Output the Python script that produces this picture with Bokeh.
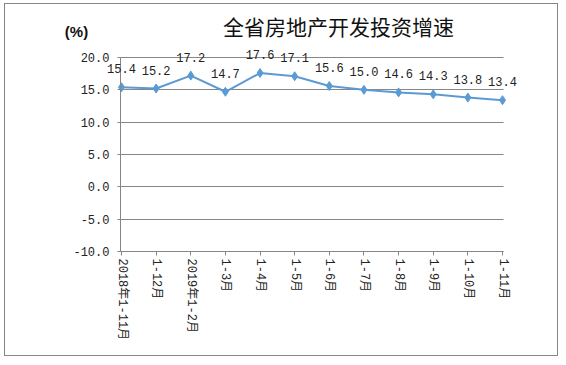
import math
from bokeh.plotting import figure
from bokeh.models import (Range1d, FixedTicker, NumeralTickFormatter, ColumnDataSource, LabelSet,
                          Label, LinearAxis, Grid)
from bokeh.core.properties import value
from bokeh.embed import file_html
from bokeh.resources import INLINE

categories = ["2018年1-11月", "1-12月", "2019年1-2月", "1-3月", "1-4月", "1-5月",
              "1-6月", "1-7月", "1-8月", "1-9月", "1-10月", "1-11月"]
growth = [15.4, 15.2, 17.2, 14.7, 17.6, 17.1, 15.6, 15.0, 14.6, 14.3, 13.8, 13.4]
y_ticks = [-10, -5, 0, 5, 10, 15, 20]
title_text = "全省房地产开发投资增速"
unit_text = "(%)"

idx = list(range(len(categories)))
src = ColumnDataSource(dict(x=idx, y=growth, lab=[f"{v:.1f}" for v in growth]))

FONT = "'Liberation Mono', 'Noto Sans CJK SC'"
GRAY = "#868686"
BLUE = "#5b9bd5"

# canvas layout (pixels)
W, H = 554, 353
X_FIRST, X_LAST = 116, 497        # pixel of first / last category
Y_TOP, Y_BOT = 53, 247            # pixel of y max / y min
y_min, y_max = y_ticks[0], y_ticks[-1]
n = len(categories) - 1
xs = (X_LAST - X_FIRST) / n
ys = (Y_BOT - Y_TOP) / (y_max - y_min)
x_range = Range1d(-X_FIRST / xs, n + (W - X_LAST) / xs)
y_range = Range1d(y_min - (H - Y_BOT) / ys, y_max + Y_TOP / ys)
pad = 0.03
x_lo, x_hi = -pad, n + pad

p = figure(width=W, height=H, output_backend="svg", toolbar_location=None,
           x_range=x_range, y_range=y_range, x_axis_location=None, y_axis_location=None,
           min_border=0)
p.styles = {"margin-left": "4px", "margin-top": "3px", "border": "1px solid " + GRAY}
p.outline_line_color = None
p.background_fill_color = "white"
p.border_fill_color = "white"
for g in p.grid:
    g.visible = False
p.center = [r for r in p.center if not isinstance(r, Grid)]

grid_kw = dict(dimension=1, ticker=FixedTicker(ticks=y_ticks), grid_line_color=GRAY)
if "cross_bounds" in Grid.properties():
    p.add_layout(Grid(cross_bounds=(x_lo, x_hi), **grid_kw), "center")
else:
    p.segment(x0=[x_lo] * len(y_ticks), x1=[x_hi] * len(y_ticks), y0=y_ticks, y1=y_ticks,
              line_color=GRAY, line_width=1)

yaxis = LinearAxis(fixed_location=x_lo, bounds=(y_min, y_max),
                   ticker=FixedTicker(ticks=y_ticks), formatter=NumeralTickFormatter(format="0.0"))
yaxis.axis_line_color = GRAY
yaxis.major_tick_line_color = GRAY
yaxis.major_tick_in = 0
yaxis.major_tick_out = 3
yaxis.minor_tick_line_color = None
yaxis.major_label_standoff = 8
yaxis.major_label_text_font = FONT
yaxis.major_label_text_font_size = "12px"
yaxis.major_label_text_color = "#222222"
p.add_layout(yaxis, "left")

xaxis = LinearAxis(fixed_location=y_min, bounds=(x_lo, x_hi), ticker=FixedTicker(ticks=idx))
xaxis.major_label_overrides = {i: c for i, c in zip(idx, categories)}
xaxis.major_label_orientation = -math.pi / 2
xaxis.axis_line_color = GRAY
xaxis.major_tick_line_color = GRAY
xaxis.major_tick_in = 0
xaxis.major_tick_out = 4
xaxis.minor_tick_line_color = None
xaxis.major_label_standoff = 3
xaxis.major_label_text_font = FONT
xaxis.major_label_text_font_size = "12px"
xaxis.major_label_text_color = "#222222"
p.add_layout(xaxis, "below")

p.line("x", "y", source=src, line_color=BLUE, line_width=2)
p.scatter("x", "y", source=src, marker="diamond", size=9, color=BLUE)

p.add_layout(LabelSet(x="x", y="y", text="lab", source=src, y_offset=14,
                      text_align="center", text_baseline="bottom",
                      text_font=value(FONT), text_font_size="12px", text_color="#222222"))

p.add_layout(Label(x=332, y=20, x_units="canvas", y_units="canvas", text=title_text,
                   text_align="center", text_baseline="middle",
                   text_font="Noto Sans CJK SC", text_font_size="21px", text_color="#111111"))
p.add_layout(Label(x=70, y=26, x_units="canvas", y_units="canvas", text=unit_text,
                   text_align="center", text_baseline="middle",
                   text_font="Liberation Sans", text_font_size="15px",
                   text_font_style="bold", text_color="#111111"))

open("out.html", "w").write(file_html(p, INLINE))
